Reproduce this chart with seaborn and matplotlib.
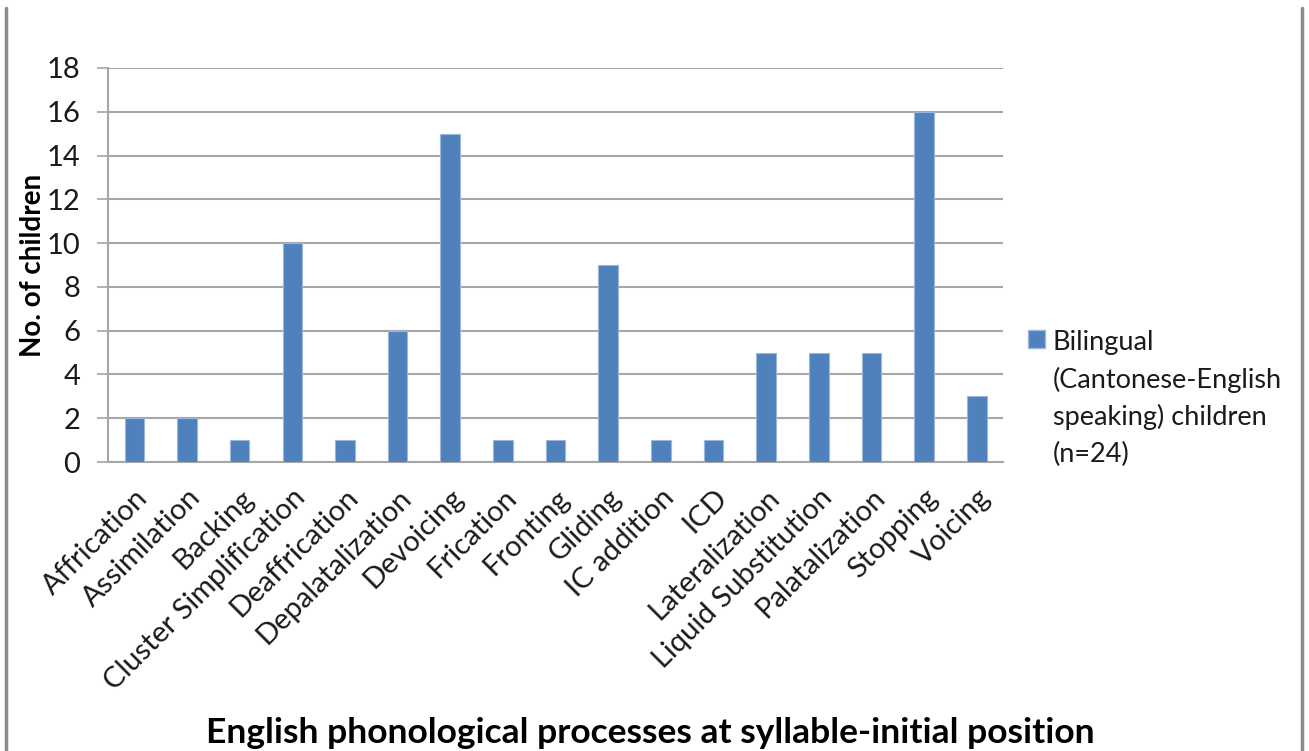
import matplotlib
matplotlib.use("Agg")
import matplotlib.pyplot as plt
from matplotlib.lines import Line2D
import numpy as np
import pandas as pd
import seaborn as sns

processes = ["Affrication", "Assimilation", "Backing", "Cluster Simplification",
             "Deaffrication", "Depalatalization", "Devoicing", "Frication",
             "Fronting", "Gliding", "IC addition", "ICD", "Lateralization",
             "Liquid Substitution", "Palatalization", "Stopping", "Voicing"]
children = [2, 2, 1, 10, 1, 6, 15, 1, 1, 9, 1, 1, 5, 5, 5, 16, 3]
y_ticks = [0, 2, 4, 6, 8, 10, 12, 14, 16, 18]
series_label = "Bilingual\n(Cantonese-English\nspeaking) children\n(n=24)"

df = pd.DataFrame({"process": processes, "children": children})

sns.set_theme(style="white")
plt.rcParams["font.family"] = ["Lato", "DejaVu Sans"]

bar_color = "#4F81BD"
grid_color = "#A6A6A6"
text_color = "#1A1A1A"

fig = plt.figure(figsize=(13.09, 7.51), dpi=100)
ax = fig.add_axes([0.0825, 0.3848, 0.6838, 0.5247])

sns.barplot(data=df, x="process", y="children", color=bar_color, width=0.37,
            saturation=1, edgecolor="#9DB6DA", linewidth=0.8, ax=ax, zorder=3)

ax.set_ylim(0, 18)
ax.set_xlim(-0.5, len(processes) - 0.5)
ax.set_yticks(y_ticks)
ax.set_yticklabels([str(v) for v in y_ticks], fontsize=21, color=text_color)
ax.yaxis.grid(True, color=grid_color, linewidth=1.5, zorder=0)
ax.set_axisbelow(True)

ax.set_xticks(range(len(processes)))
ax.set_xticklabels(processes, rotation=45, ha="right", rotation_mode="anchor",
                   fontsize=21, color=text_color)
ax.set_xticks(np.arange(-0.5, len(processes), 1.0), minor=True)
ax.tick_params(axis="x", which="major", length=0, pad=16)
ax.tick_params(axis="x", which="minor", length=9, width=1.2, color=grid_color,
               direction="out")
ax.tick_params(axis="y", which="major", length=8, width=1.2, color=grid_color,
               direction="out", pad=12, left=True)

for side in ["top", "right"]:
    ax.spines[side].set_visible(False)
for side in ["left", "bottom"]:
    ax.spines[side].set_color(grid_color)
    ax.spines[side].set_linewidth(1.5)

ax.set_xlabel("")
ax.set_ylabel("No. of children", fontsize=20, fontweight="bold", labelpad=0,
              color="black")

fig.text(0.497, 0.024, "English phonological processes at syllable-initial position",
         ha="center", va="center", fontsize=25.5, fontweight="bold", color="black")

handle = plt.Rectangle((0, 0), 1, 1, facecolor=bar_color, edgecolor="#9DB6DA")
leg = fig.legend([handle], [series_label], loc="upper left",
                 bbox_to_anchor=(0.777, 0.575), frameon=False, fontsize=19.5,
                 handlelength=0.62, handleheight=0.62, handletextpad=0.3,
                 labelspacing=0.3, borderaxespad=0)
for t in leg.get_texts():
    t.set_linespacing(1.55)
    t.set_color(text_color)
for col in leg._legend_handle_box.get_children():
    for row in col.get_children():
        row.align = "top"

# outer frame lines
fig.add_artist(Line2D([0.0046, 0.0046], [0, 0.989], transform=fig.transFigure,
                      color="#8C8C8C", linewidth=2.5))
fig.add_artist(Line2D([0.9946, 0.9946], [0, 0.989], transform=fig.transFigure,
                      color="#8C8C8C", linewidth=2.5))

fig.savefig("out.png", dpi=100)
